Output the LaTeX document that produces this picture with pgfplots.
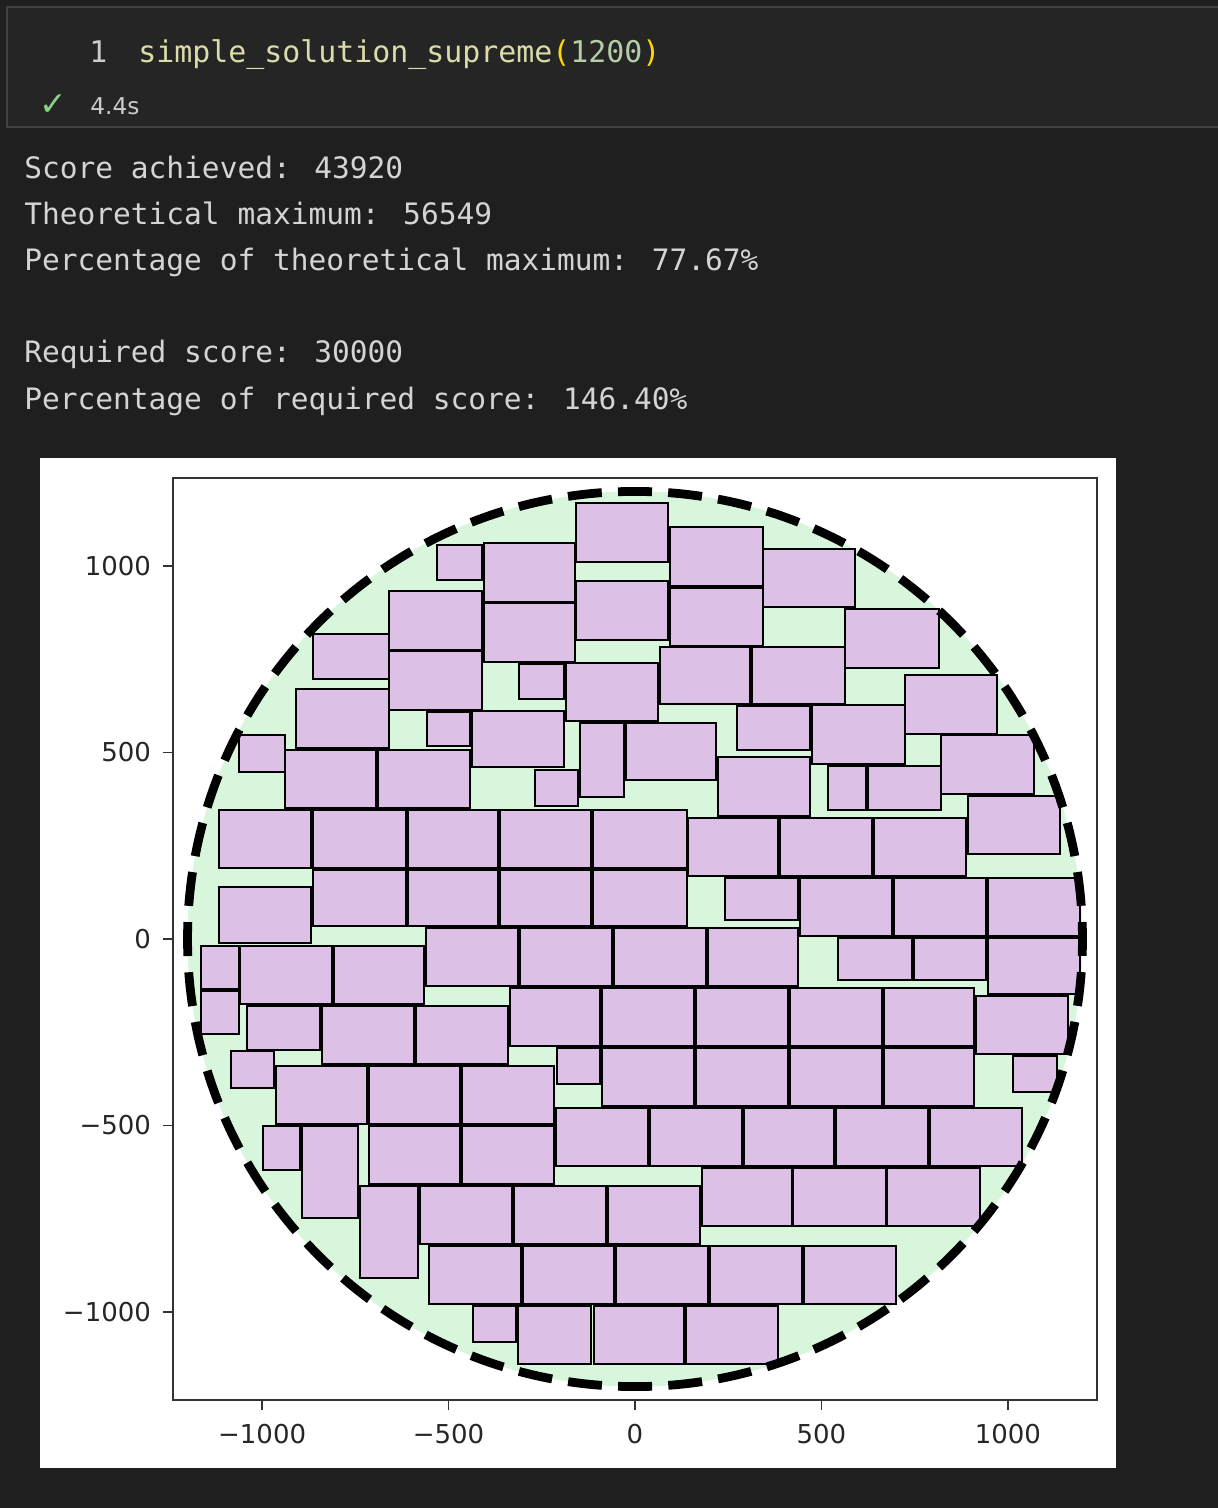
\documentclass[border=0pt]{standalone}
\usepackage{fontspec}
\setmainfont{DejaVu Sans}
\newfontfamily\mono{DejaVu Sans Mono}
\usepackage{pgfplots}
\pgfplotsset{compat=1.18}
\definecolor{bgdark}{RGB}{31,31,31}
\definecolor{cellbg}{RGB}{37,37,38}
\definecolor{cellborder}{RGB}{64,64,64}
\definecolor{outtext}{RGB}{212,212,212}
\definecolor{fn}{RGB}{220,220,170}
\definecolor{paren}{RGB}{255,215,0}
\definecolor{num}{RGB}{181,206,168}
\definecolor{lineno}{RGB}{204,204,204}
\definecolor{okgreen}{RGB}{137,209,133}
\definecolor{circfill}{RGB}{216,246,220}
\definecolor{rectfill}{RGB}{220,192,230}
\newcommand{\R}[4]{\addplot[draw=black, line width=1.1pt, fill=rectfill] coordinates {(#1,#2) (#3,#2) (#3,#4) (#1,#4)} -- cycle;}
\begin{document}
\begin{tikzpicture}
\begin{scope}[x=0.5pt,y=-0.5pt]
\useasboundingbox (0,0) rectangle (1218,1508);
\fill[bgdark] (0,0) rectangle (1218,1508);
\fill[cellbg] (7,7) rectangle (1230,127);
\draw[cellborder, line width=1pt] (7,7) rectangle (1230,127);
\node[anchor=base west, inner sep=0, text=lineno] at (89,63) {\mono\fontsize{14.9pt}{18pt}\selectfont 1};
\node[anchor=base west, inner sep=0] at (138,63) {\mono\fontsize{14.95pt}{18pt}\selectfont{\color{fn}simple\_solution\_supreme}{\color{paren}(}{\color{num}1200}{\color{paren})}};
\node[anchor=base west, inner sep=0, text=okgreen] at (39,116) {\fontsize{16.5pt}{18pt}\selectfont ✓};
\node[anchor=base west, inner sep=0, text=lineno] at (90,115) {\fontsize{11.6pt}{14pt}\selectfont 4.4s};
\foreach \t/\yy in {{Score achieved: 43920}/179, {Theoretical maximum: 56549}/225, {Percentage of theoretical maximum: 77.67\%}/271, {Required score: 30000}/363, {Percentage of required score: 146.40\%}/409}{
  \node[anchor=base west, inner sep=0, text=outtext] at (24,\yy) {\mono\fontsize{14.75pt}{18pt}\selectfont \t};
}
\fill[white] (40,458) rectangle (1116,1468);
\end{scope}
\begin{axis}[
  at={(86.5pt,-700pt)}, anchor=south west,
  scale only axis, width=462pt, height=461pt,
  xmin=-1239, xmax=1239, ymin=-1236, ymax=1236,
  axis line style={draw=black!80, line width=0.7pt},
  xtick={-1000,-500,0,500,1000}, xticklabels={−1000,−500,0,500,1000},
  ytick={-1000,-500,0,500,1000}, yticklabels={−1000,−500,0,500,1000},
  xtick pos=bottom, ytick pos=left,
  tick align=outside, major tick length=5pt,
  tick style={draw=black!80, line width=0.7pt},
  tick label style={font=\fontsize{13pt}{15pt}\selectfont, text=black!85},
  xticklabel style={yshift=-3.5pt},
  yticklabel style={xshift=-2.5pt},
  axis background/.style={fill=white},
]
\fill[circfill] (axis cs:0,0) circle[radius=1200];
\R{-158}{1011}{88}{1169}
\R{94}{946}{343}{1105}
\R{343}{890}{590}{1046}
\R{-531}{962}{-410}{1056}
\R{-405}{903}{-161}{1062}
\R{-158}{802}{88}{960}
\R{94}{786}{343}{941}
\R{-660}{775}{-410}{933}
\R{-405}{743}{-161}{901}
\R{563}{727}{815}{885}
\R{-863}{697}{-660}{818}
\R{-660}{614}{-410}{772}
\R{-311}{643}{-190}{737}
\R{-185}{584}{62}{740}
\R{67}{630}{308}{783}
\R{314}{630}{563}{783}
\R{724}{550}{970}{708}
\R{-909}{512}{-660}{670}
\R{-558}{517}{-442}{609}
\R{-437}{461}{-190}{611}
\R{-147}{381}{-29}{579}
\R{-24}{426}{217}{579}
\R{273}{507}{469}{625}
\R{475}{469}{724}{627}
\R{-1062}{448}{-938}{547}
\R{-938}{351}{-694}{507}
\R{-689}{351}{-442}{507}
\R{-268}{357}{-153}{453}
\R{223}{330}{469}{488}
\R{517}{346}{619}{464}
\R{625}{346}{820}{464}
\R{820}{389}{1070}{547}
\R{893}{228}{1139}{383}
\R{-1115}{190}{-869}{346}
\R{-863}{190}{-614}{346}
\R{-609}{190}{-367}{346}
\R{-362}{190}{-118}{346}
\R{-113}{190}{139}{346}
\R{142}{169}{383}{324}
\R{389}{169}{635}{324}
\R{641}{169}{887}{324}
\R{-1115}{-11}{-869}{139}
\R{-863}{35}{-614}{185}
\R{-609}{35}{-367}{185}
\R{-362}{35}{-118}{185}
\R{-113}{35}{139}{185}
\R{241}{51}{437}{164}
\R{442}{8}{689}{164}
\R{694}{8}{941}{164}
\R{946}{8}{1193}{164}
\R{-560}{-126}{-314}{29}
\R{-308}{-126}{-62}{29}
\R{-56}{-126}{190}{29}
\R{196}{-126}{437}{29}
\R{544}{-110}{743}{3}
\R{748}{-110}{941}{3}
\R{946}{-147}{1193}{3}
\R{-1164}{-134}{-1062}{-19}
\R{-1059}{-174}{-812}{-19}
\R{-807}{-174}{-566}{-19}
\R{-1164}{-255}{-1062}{-139}
\R{-335}{-287}{-94}{-131}
\R{-88}{-287}{158}{-131}
\R{164}{-287}{410}{-131}
\R{416}{-287}{662}{-131}
\R{668}{-287}{909}{-131}
\R{914}{-308}{1161}{-153}
\R{-1040}{-298}{-845}{-180}
\R{-839}{-335}{-592}{-180}
\R{-587}{-335}{-340}{-180}
\R{-209}{-389}{-94}{-292}
\R{-88}{-448}{158}{-292}
\R{164}{-448}{410}{-292}
\R{416}{-448}{662}{-292}
\R{668}{-448}{909}{-292}
\R{1013}{-410}{1131}{-314}
\R{-1083}{-399}{-968}{-300}
\R{-962}{-496}{-718}{-340}
\R{-713}{-496}{-469}{-340}
\R{-464}{-496}{-217}{-340}
\R{-212}{-609}{35}{-453}
\R{40}{-609}{287}{-453}
\R{292}{-609}{533}{-453}
\R{539}{-609}{786}{-453}
\R{791}{-609}{1038}{-453}
\R{-997}{-619}{-898}{-501}
\R{-893}{-748}{-743}{-501}
\R{-713}{-657}{-469}{-501}
\R{-464}{-657}{-217}{-501}
\R{-737}{-909}{-582}{-662}
\R{-576}{-818}{-330}{-662}
\R{-324}{-818}{-78}{-662}
\R{-72}{-818}{174}{-662}
\R{180}{-769}{421}{-614}
\R{424}{-769}{673}{-614}
\R{676}{-769}{925}{-614}
\R{-552}{-979}{-306}{-823}
\R{-300}{-979}{-56}{-823}
\R{-51}{-979}{196}{-823}
\R{201}{-979}{448}{-823}
\R{453}{-979}{700}{-823}
\R{-434}{-1080}{-319}{-984}
\R{-314}{-1139}{-118}{-984}
\R{-110}{-1139}{131}{-984}
\R{137}{-1139}{383}{-984}
\draw[black, line width=4.4pt, dash pattern=on 17pt off 8.11pt, dash phase=8.5pt] (axis cs:0,0) circle[radius=1200];
\end{axis}
\end{tikzpicture}
\end{document}
